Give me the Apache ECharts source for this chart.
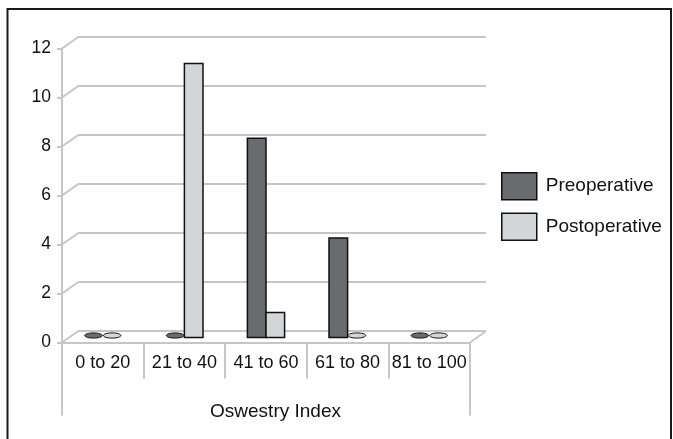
<!DOCTYPE html>
<html>
<head>
<meta charset="utf-8">
<script src="https://cdn.jsdelivr.net/npm/echarts@6/dist/echarts.min.js"></script>
<style>
html,body{margin:0;padding:0;background:#fff;}
#main{width:673px;height:439px;}
</style>
</head>
<body>
<div id="main"></div>
<script>
const categories = ['0 to 20', '21 to 40', '41 to 60', '61 to 80', '81 to 100'];
const preoperative = [0, 0, 8, 4, 0];
const postoperative = [0, 11, 1, 0, 0];
const yTickValues = [0, 2, 4, 6, 8, 10, 12];
const seriesNames = ['Preoperative', 'Postoperative'];
const axisTitle = 'Oswestry Index';

const FONT = '"Liberation Sans", Arial, Helvetica, sans-serif';
const TEXT_COLOR = '#111';
const GRID_COLOR = '#c6c6c6';
const PRE_COLOR = '#6a6b6f';
const POST_COLOR = '#d4d5d7';
const DX = 17, DY = -12;

function barRenderer(side, fill) {
  return function (params, api) {
    const idx = api.value(0);
    const v = api.value(1);
    const top = api.coord([idx, v]);
    const base = api.coord([idx, 0]);
    const bw = 18.6;
    const x = side < 0 ? top[0] - bw : top[0];
    if (v === 0) {
      return {
        type: 'ellipse',
        shape: { cx: x + bw / 2, cy: base[1] - 2, rx: bw / 2 - 0.5, ry: 2.6 },
        style: { fill: fill, stroke: '#111', lineWidth: 1 }
      };
    }
    return {
      type: 'rect',
      shape: { x: x, y: top[1], width: bw, height: base[1] - top[1] },
      style: { fill: fill, stroke: '#111', lineWidth: 1.5 }
    };
  };
}

const chart = echarts.init(document.getElementById('main'), null, { renderer: 'canvas' });

const option = {
  backgroundColor: '#fff',
  animation: false,
  textStyle: { fontFamily: FONT },
  grid: [
    { left: 62, top: 48.5, width: 408, height: 294 },   // front plane
    { left: 79, top: 36.5, width: 407, height: 294 },   // back plane
    { left: 62, top: 38.7, width: 408, height: 298.8 }  // bars (mid depth)
  ],
  xAxis: [
    {
      gridIndex: 0, type: 'category', data: categories, boundaryGap: true,
      axisLine: { show: true, lineStyle: { color: GRID_COLOR, width: 2 } },
      axisTick: { show: true, length: 36, interval: 0, lineStyle: { color: GRID_COLOR, width: 2 } },
      axisLabel: { interval: 0, margin: 12, fontSize: 18, color: TEXT_COLOR, fontFamily: FONT }
    },
    { gridIndex: 0, type: 'value', min: 0, max: 5, show: false },
    { gridIndex: 1, type: 'category', data: categories, show: false },
    { gridIndex: 2, type: 'category', data: categories, show: false }
  ],
  yAxis: [
    {
      gridIndex: 0, type: 'value', min: 0, max: 12, interval: 2,
      axisLine: { show: true, lineStyle: { color: GRID_COLOR, width: 2 } },
      axisTick: { show: true, length: 5, lineStyle: { color: GRID_COLOR, width: 2 } },
      axisLabel: { margin: 11, fontSize: 17.5, color: TEXT_COLOR, fontFamily: FONT },
      splitLine: { show: false }
    },
    {
      gridIndex: 1, type: 'value', min: 0, max: 12, interval: 2,
      axisLine: { show: false }, axisTick: { show: false }, axisLabel: { show: false },
      splitLine: { show: true, lineStyle: { color: GRID_COLOR, width: 2 } }
    },
    { gridIndex: 2, type: 'value', min: 0, max: 12, show: false }
  ],
  legend: {
    orient: 'vertical', left: 501, top: 172, padding: 0,
    itemWidth: 35, itemHeight: 27, itemGap: 12,
    textStyle: { fontSize: 19, color: TEXT_COLOR, fontFamily: FONT, padding: [0, 0, 0, 4] },
    data: [
      { name: seriesNames[0], icon: 'rect', itemStyle: { color: PRE_COLOR, borderColor: '#111', borderWidth: 1.5 } },
      { name: seriesNames[1], icon: 'rect', itemStyle: { color: POST_COLOR, borderColor: '#111', borderWidth: 1.5 } }
    ]
  },
  series: [
    {
      name: 'frame', type: 'custom', xAxisIndex: 1, yAxisIndex: 0, silent: true, z: 1,
      data: yTickValues.map(v => [0, v]),
      renderItem: function (params, api) {
        const v = api.value(1);
        const p = api.coord([0, v]);
        const children = [{
          type: 'line',
          shape: { x1: p[0], y1: p[1], x2: p[0] + DX, y2: p[1] + DY },
          style: { stroke: GRID_COLOR, lineWidth: 2 }
        }];
        if (v === 0) {
          const r = api.coord([5, 0]);
          children.push({ type: 'line', shape: { x1: r[0], y1: r[1], x2: r[0] + DX - 1, y2: r[1] + DY + 0.5 }, style: { stroke: GRID_COLOR, lineWidth: 2 } });
          children.push({ type: 'line', shape: { x1: p[0], y1: p[1], x2: p[0], y2: p[1] + 73 }, style: { stroke: GRID_COLOR, lineWidth: 2 } });
          children.push({ type: 'line', shape: { x1: r[0], y1: r[1], x2: r[0], y2: r[1] + 73 }, style: { stroke: GRID_COLOR, lineWidth: 2 } });
        }
        return { type: 'group', children: children };
      }
    },
    {
      name: seriesNames[0], type: 'custom', xAxisIndex: 3, yAxisIndex: 2, z: 5,
      itemStyle: { color: PRE_COLOR, borderColor: '#111' },
      data: preoperative.map((v, i) => [i, v]),
      renderItem: barRenderer(-1, PRE_COLOR)
    },
    {
      name: seriesNames[1], type: 'custom', xAxisIndex: 3, yAxisIndex: 2, z: 5,
      itemStyle: { color: POST_COLOR, borderColor: '#111' },
      data: postoperative.map((v, i) => [i, v]),
      renderItem: barRenderer(1, POST_COLOR)
    }
  ],
  graphic: [
    {
      type: 'rect', silent: true, z: 10,
      shape: { x: 7.5, y: 9, width: 663.5, height: 440 },
      style: { fill: 'none', stroke: '#1a1a1a', lineWidth: 2 }
    },
    {
      type: 'text', silent: true, x: 275.5, y: 412,
      style: { text: axisTitle, fill: TEXT_COLOR, font: '19px ' + FONT, align: 'center', verticalAlign: 'middle' }
    }
  ]
};

chart.setOption(option);
</script>
</body>
</html>
